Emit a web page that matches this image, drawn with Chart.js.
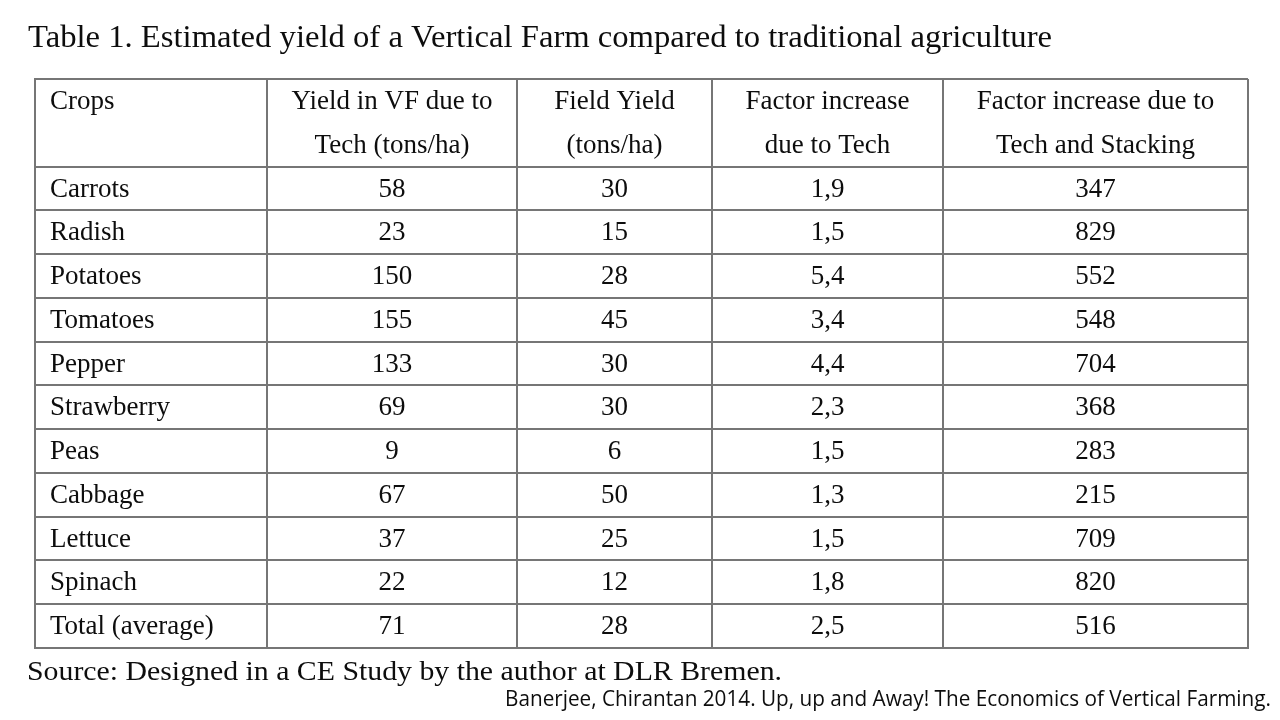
<!DOCTYPE html>
<html>
<head>
<meta charset="utf-8">
<script src="https://cdn.jsdelivr.net/npm/chart.js@4"></script>
<style>
  html, body { margin: 0; padding: 0; background: #fff; }
  canvas { display: block; }
</style>
</head>
<body>
<canvas id="yieldTable" width="1280" height="720"></canvas>
<script>
// table content
const headers = [
  ['Crops'],
  ['Yield in VF due to', 'Tech (tons/ha)'],
  ['Field Yield', '(tons/ha)'],
  ['Factor increase', 'due to Tech'],
  ['Factor increase due to', 'Tech and Stacking']
]
const crops = ['Carrots', 'Radish', 'Potatoes', 'Tomatoes', 'Pepper', 'Strawberry', 'Peas', 'Cabbage', 'Lettuce', 'Spinach', 'Total (average)']
const vfYield = [58, 23, 150, 155, 133, 69, 9, 67, 37, 22, 71]
const fieldYield = [30, 15, 28, 45, 30, 30, 6, 50, 25, 12, 28]
const factorTech = [1.9, 1.5, 5.4, 3.4, 4.4, 2.3, 1.5, 1.3, 1.5, 1.8, 2.5]
const factorStacking = [347, 829, 552, 548, 704, 368, 283, 215, 709, 820, 516]

const titleText = 'Table 1. Estimated yield of a Vertical Farm compared to traditional agriculture'
const sourceText = 'Source: Designed in a CE Study by the author at DLR Bremen.'
const citeText = 'Banerjee, Chirantan 2014. Up, up and Away! The Economics of Vertical Farming.'

// layout: relative column widths, header takes two row units
const colWidths = [232, 250, 195, 231, 305]
const colEdges = colWidths.reduce((acc, w) => acc.concat(acc[acc.length - 1] + w), [0])
const headerRows = 2
const rowCount = headerRows + crops.length

const serif = '"Liberation Serif", "Times New Roman", serif'
const lineColor = '#767676'

const columns = [
  crops,
  vfYield.map(v => String(v)),
  fieldYield.map(v => String(v)),
  factorTech.map(v => v.toFixed(1).replace('.', ',')),
  factorStacking.map(v => String(v))
]

const datasets = columns.map((texts, c) => ({
  label: headers[c].join(' '),
  texts: texts,
  col: c,
  data: texts.map((t, r) => ({ x: (colEdges[c] + colEdges[c + 1]) / 2, y: headerRows + r + 0.5 })),
  pointRadius: 0,
  showLine: false
}))

// draw text stretched or squeezed to a given width
const fitText = (ctx, text, x, y, width, align) => {
  const w = ctx.measureText(text).width
  const sx = width / w
  ctx.save()
  ctx.translate(x, y)
  ctx.scale(sx, 1)
  ctx.textAlign = align
  ctx.fillText(text, 0, 0)
  ctx.restore()
}

const tableText = {
  id: 'tableText',
  afterDatasetsDraw(chart) {
    const ctx = chart.ctx
    const xs = chart.scales.x
    const ys = chart.scales.y
    ctx.save()
    ctx.fillStyle = '#0d0d0d'
    ctx.textBaseline = 'middle'
    ctx.font = '27px ' + serif

    const cellX = (c, x) => {
      if (c === 0) {
        ctx.textAlign = 'left'
        return xs.getPixelForValue(colEdges[0]) + 15
      }
      ctx.textAlign = 'center'
      return x
    }

    // header
    headers.forEach((lines, c) => {
      const cx = xs.getPixelForValue((colEdges[c] + colEdges[c + 1]) / 2)
      const x = cellX(c, cx)
      const y1 = ys.getPixelForValue(headerRows * 0.25)
      const y2 = ys.getPixelForValue(headerRows * 0.75)
      ctx.fillText(lines[0], x, y1 + 1)
      if (lines[1]) ctx.fillText(lines[1], x, y2 + 1)
    })

    // body
    chart.data.datasets.forEach((ds, i) => {
      const meta = chart.getDatasetMeta(i)
      meta.data.forEach((pt, j) => {
        ctx.fillText(ds.texts[j], cellX(ds.col, pt.x), pt.y + 1)
      })
    })

    // title and notes
    ctx.textBaseline = 'alphabetic'
    ctx.font = '32.5px ' + serif
    fitText(ctx, titleText, 28, 47, 1024, 'left')
    ctx.font = '26.5px ' + serif
    fitText(ctx, sourceText, 27, 680, 755, 'left')
    ctx.font = '21px "Open Sans", "Noto Sans", sans-serif'
    fitText(ctx, citeText, 1271, 706, 766, 'right')
    ctx.restore()
  }
}

new Chart(
  document.getElementById('yieldTable'),
  {
    type: 'scatter',
    data: { datasets: datasets },
    options: {
      responsive: false,
      animation: false,
      events: [],
      layout: {
        padding: { left: 35, right: 32, top: 79, bottom: 72 }
      },
      plugins: {
        legend: { display: false },
        tooltip: { enabled: false }
      },
      scales: {
        x: {
          type: 'linear',
          min: 0,
          max: colEdges[colEdges.length - 1],
          afterBuildTicks: axis => { axis.ticks = colEdges.map(v => ({ value: v })) },
          ticks: { display: false },
          grid: { color: lineColor, lineWidth: 2, drawTicks: false },
          border: { color: lineColor, width: 2 }
        },
        y: {
          type: 'linear',
          reverse: true,
          min: 0,
          max: rowCount,
          afterBuildTicks: axis => {
            const t = [0]
            for (let r = headerRows; r <= rowCount; r++) t.push(r)
            axis.ticks = t.map(v => ({ value: v }))
          },
          ticks: { display: false },
          grid: { color: lineColor, lineWidth: 2, drawTicks: false },
          border: { color: lineColor, width: 2 }
        }
      }
    },
    plugins: [tableText]
  }
)
</script>
</body>
</html>
